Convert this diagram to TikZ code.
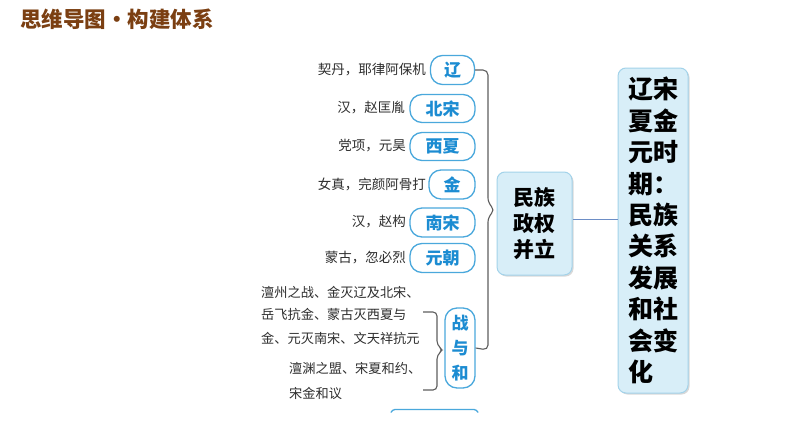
\documentclass[tikz,border=0pt]{standalone}
\usepackage{fontspec}
\setmainfont{Noto Sans CJK SC}
\usetikzlibrary{shadows}
\definecolor{titlebrown}{HTML}{7B3F12}
\definecolor{pillblue}{HTML}{4AA8DC}
\definecolor{pilltext}{HTML}{1C8CD2}
\definecolor{boxfill}{HTML}{D8EEF8}
\definecolor{boxdraw}{HTML}{A3D3EA}
\definecolor{treegray}{HTML}{5E5E5E}
\definecolor{linkblue}{HTML}{6D8EC6}
\definecolor{labelgray}{HTML}{2E2E2E}
\tikzset{
 pill/.style={draw=pillblue, line width=1.3pt, fill=white, rounded corners=12pt, text=pilltext, font=\fontsize{17}{25}\selectfont\bfseries, inner sep=0pt, align=center},
 lbl/.style={text=labelgray, font=\fontsize{13.5}{16}\selectfont, inner sep=0pt},
 bigbox/.style={draw=boxdraw, line width=1pt, fill=boxfill, rounded corners=8pt, drop shadow={opacity=0.3, shadow xshift=1.5pt, shadow yshift=-1.5pt}, inner sep=0pt, text=black},
 tree/.style={draw=treegray, line width=1.1pt, rounded corners=5pt},
}
\begin{document}
\begin{tikzpicture}[x=1pt,y=1pt]
\useasboundingbox[fill=white] (0,0) rectangle (794,-447);
% title
\node[anchor=west, inner sep=0pt, text=titlebrown, font=\fontsize{21.5}{24}\selectfont\bfseries] (title) at (20,-19) {思维导图・构建体系};
% pills
\node[pill, minimum width=44, minimum height=29] (liao) at (452.5,-70) {辽};
\node[pill, minimum width=65, minimum height=28] (beisong) at (442.5,-108.5) {北宋};
\node[pill, minimum width=65, minimum height=28] (xixia) at (442.5,-146.5) {西夏};
\node[pill, minimum width=46, minimum height=29] (jin) at (452,-184.5) {金};
\node[pill, minimum width=65, minimum height=29] (nansong) at (442.5,-222.5) {南宋};
\node[pill, minimum width=65, minimum height=29] (yuanchao) at (442.5,-258) {元朝};
\node[pill, minimum width=30, minimum height=80] (zh) at (460,-348) {战\\与\\和};
% labels
\node[lbl, anchor=east] (l1) at (426,-70) {契丹，耶律阿保机};
\node[lbl, anchor=east] (l2) at (405,-108) {汉，赵匡胤};
\node[lbl, anchor=east] (l3) at (406,-146) {党项，元昊};
\node[lbl, anchor=east] (l4) at (426,-184) {女真，完颜阿骨打};
\node[lbl, anchor=east] (l5) at (406,-222) {汉，赵构};
\node[lbl, anchor=east] (l6) at (406,-258) {蒙古，忽必烈};
\node[lbl, anchor=west, font=\fontsize{13.2}{16}\selectfont] (w1) at (261,-292) {澶州之战、金灭辽及北宋、};
\node[lbl, anchor=west, font=\fontsize{13.2}{16}\selectfont] (w2) at (261,-314) {岳飞抗金、蒙古灭西夏与};
\node[lbl, anchor=west, font=\fontsize{13.2}{16}\selectfont] (w3) at (261,-338) {金、元灭南宋、文天祥抗元};
\node[lbl, anchor=west, font=\fontsize{13.2}{16}\selectfont] (p1) at (289,-368) {澶渊之盟、宋夏和约、};
\node[lbl, anchor=west, font=\fontsize{13.2}{16}\selectfont] (p2) at (289,-393) {宋金和议};
% boxes
\node[bigbox, minimum width=75, minimum height=103, align=center, font=\fontsize{21}{26}\selectfont\bfseries] (mz) at (534.5,-223.5) {民族\\政权\\并立};
\node[bigbox, minimum width=70, minimum height=325, align=left, font=\fontsize{25}{31.4}\selectfont\bfseries] (main) at (653,-230.5) {辽宋\\夏金\\元时\\期：\\民族\\关系\\发展\\和社\\会变\\化};
% connectors
\coordinate (notch) at (495,-210);
\draw[tree] (liao.east) -- (488,-70) -- (488,-203) -- (notch) -- (488,-217) -- (488,-350) -- (zh.east);
\draw[tree, rounded corners=4pt] (423,-312) -- (437,-312) -- (437,-345) -- (443,-350) -- (437,-355) -- (437,-390) -- (423,-390);
\draw[linkblue, line width=0.9pt] (mz.east |- 0,-219) -- (main.west |- 0,-219);
% partial pill at bottom
\draw[pillblue, line width=1.3pt, rounded corners=3pt] (391,-412.5) -- (392,-409.5) -- (477,-409.5) -- (478,-412.5);
\end{tikzpicture}
\end{document}
